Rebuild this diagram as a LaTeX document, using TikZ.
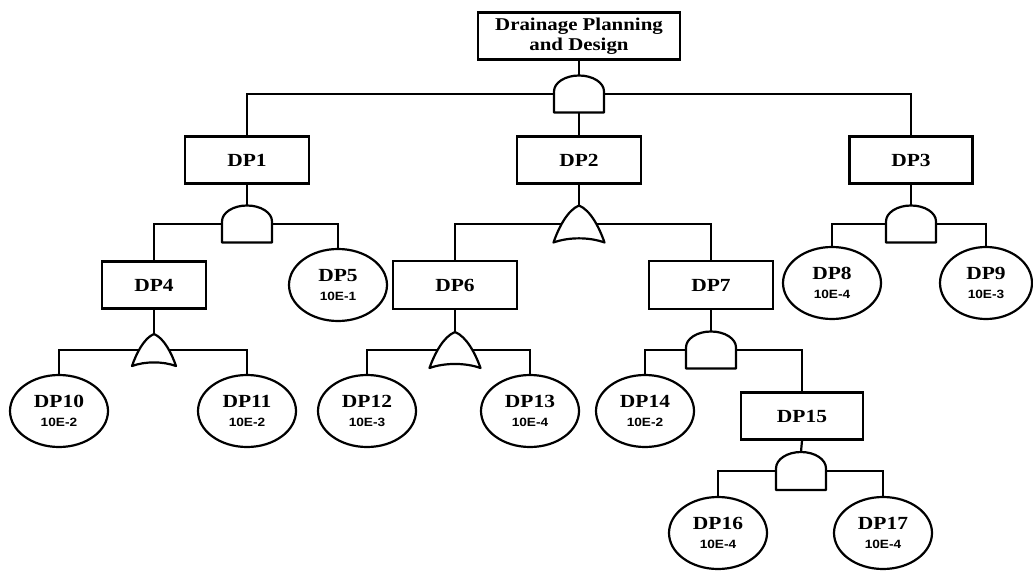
\documentclass[tikz,border=0pt]{standalone}
\usepackage{fontspec}
\usetikzlibrary{calc,shapes.geometric}
\newfontfamily\dpserif{Liberation Serif}[FakeStretch=1.16]
\newfontfamily\dpsans{Liberation Sans}[FakeStretch=1.14]
\newcommand\namef{\dpserif\bfseries\fontsize{18.5}{19.5}\selectfont}
\newcommand\topf{\dpserif\bfseries\fontsize{18}{19.5}\selectfont}
\newcommand\probf{\dpsans\bfseries\fontsize{12}{13}\selectfont}
\tikzset{
  conn/.style={line width=2.2pt, draw=black},
  evbox/.style={draw, line width=2.2pt, rectangle, minimum height=47pt, inner sep=0pt, font=\namef, align=center},
  event/.style={draw, line width=2.2pt, ellipse, minimum width=98pt, minimum height=72pt, inner sep=0pt, align=center, font=\namef},
  gatebox/.style={inner sep=0pt, draw=none, minimum width=50pt, minimum height=37pt},
  gateline/.style={line width=2.2pt, draw=black, fill=white, line join=round},
}
\newcommand\andshape[3]{\begin{scope}[shift={(#1.center)}, x=#2pt, y=#3pt]
  \draw[gateline] (-1,-1) -- (-1,0.14) .. controls (-1,0.615) and (-0.552,1) .. (0,1) .. controls (0.552,1) and (1,0.615) .. (1,0.14) -- (1,-1) -- cycle;
\end{scope}}
\newcommand\orshape[3]{\begin{scope}[shift={(#1.center)}, x=#2pt, y=#3pt]
  \draw[gateline] (-1,-1) .. controls (-0.8,-0.2) and (-0.45,0.75) .. (0,1) .. controls (0.45,0.75) and (0.8,-0.2) .. (1,-1) .. controls (0.4,-0.7) and (-0.4,-0.7) .. cycle;
\end{scope}}
\begin{document}
\begin{tikzpicture}[x=1pt, y=-1pt]
\useasboundingbox (0,0) rectangle (1033,572);
% boxes
\node[evbox, minimum width=202pt, font=\topf] (top) at (579,36) {Drainage Planning\\and Design};
\node[evbox, minimum width=124pt] (dp1) at (247,160) {DP1};
\node[evbox, minimum width=124pt] (dp2) at (579,160) {DP2};
\node[evbox, minimum width=123pt] (dp3) at (911,160) {DP3};
\node[evbox, minimum width=104pt] (dp4) at (154,285) {DP4};
\node[evbox, minimum width=124pt, minimum height=48pt] (dp6) at (455,285) {DP6};
\node[evbox, minimum width=124pt, minimum height=48pt] (dp7) at (711,285) {DP7};
\node[evbox, minimum width=122pt] (dp15) at (802,416) {DP15};
% basic events
\node[event] (dp5) at (338,285) {DP5\\{\probf 10E-1}};
\node[event] (dp8) at (832,283) {DP8\\{\probf 10E-4}};
\node[event, minimum width=92pt] (dp9) at (986,283) {DP9\\{\probf 10E-3}};
\node[event] (dp10) at (59,411) {DP10\\{\probf 10E-2}};
\node[event] (dp11) at (247,411) {DP11\\{\probf 10E-2}};
\node[event] (dp12) at (367,411) {DP12\\{\probf 10E-3}};
\node[event] (dp13) at (530,411) {DP13\\{\probf 10E-4}};
\node[event] (dp14) at (645,411) {DP14\\{\probf 10E-2}};
\node[event] (dp16) at (718,533) {DP16\\{\probf 10E-4}};
\node[event] (dp17) at (883,533) {DP17\\{\probf 10E-4}};
% gates (placeholders)
\node[gatebox] (g0) at (579,94) {};
\node[gatebox] (g1) at (247,224) {};
\node[gatebox, minimum width=51pt] (g2) at (579,224) {};
\node[gatebox] (g3) at (911,224) {};
\node[gatebox, minimum width=44pt, minimum height=32pt] (g4) at (154,350) {};
\node[gatebox, minimum width=51pt, minimum height=36pt] (g6) at (455,350) {};
\node[gatebox] (g7) at (711,350) {};
\node[gatebox, minimum height=38pt] (g15) at (801,471) {};
% connectors
\draw[conn] (top.south) -- (g0.north);
\draw[conn] (g0.center) -| (dp1.north);
\draw[conn] (g0.center) -| (dp3.north);
\draw[conn] (g0.south) -- (dp2.north);
\draw[conn] (dp1.south) -- (g1.north);
\draw[conn] (g1.center) -| (dp4.north);
\draw[conn] (g1.center) -| (dp5.north);
\draw[conn] (dp2.south) -- (g2.north);
\draw[conn] (g2.center) -| (dp6.north);
\draw[conn] (g2.center) -| (dp7.north);
\draw[conn] (dp3.south) -- (g3.north);
\draw[conn] (g3.center) -| (dp8.north);
\draw[conn] (g3.center) -| (dp9.north);
\draw[conn] (dp4.south) -- (g4.north);
\draw[conn] (g4.center) -| (dp10.north);
\draw[conn] (g4.center) -| (dp11.north);
\draw[conn] (dp6.south) -- (g6.north);
\draw[conn] (g6.center) -| (dp12.north);
\draw[conn] (g6.center) -| (dp13.north);
\draw[conn] (dp7.south) -- (g7.north);
\draw[conn] (g7.center) -| (dp14.north);
\draw[conn] (g7.center) -| (dp15.north);
\draw[conn] (dp15.south) -- (g15.north);
\draw[conn] (g15.center) -| (dp16.north);
\draw[conn] (g15.center) -| (dp17.north);
% gate shapes
\andshape{g0}{25}{18.5}
\andshape{g1}{25}{18.5}
\orshape{g2}{25.5}{18.5}
\andshape{g3}{25}{18.5}
\orshape{g4}{22}{16}
\orshape{g6}{25.5}{18}
\andshape{g7}{25}{18.5}
\andshape{g15}{25}{19}
\end{tikzpicture}
\end{document}
